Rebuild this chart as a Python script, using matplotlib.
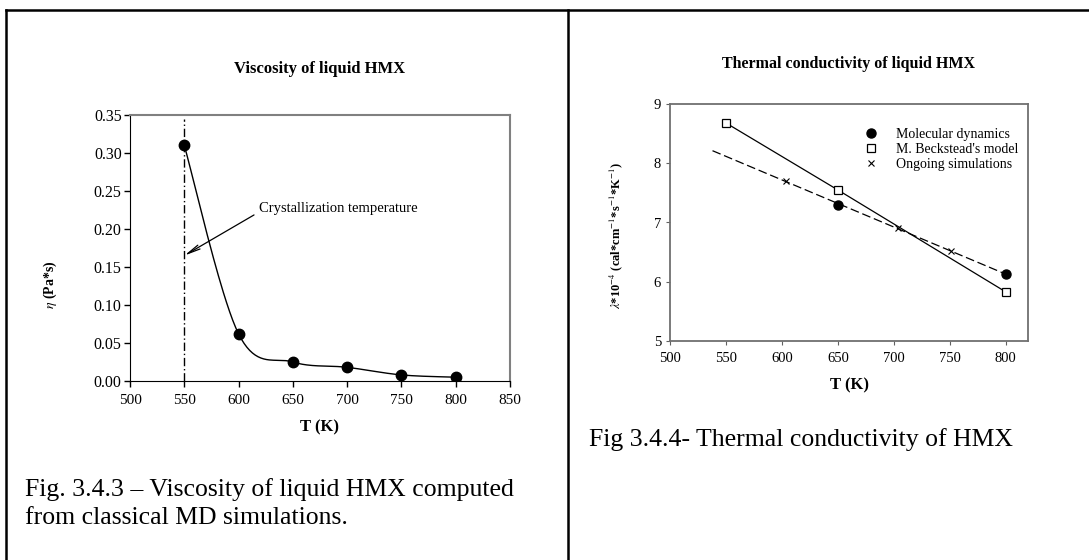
import matplotlib
matplotlib.use("Agg")
from matplotlib import pyplot as plt
from matplotlib.lines import Line2D
import numpy as np

plt.rcParams['font.family'] = ['Liberation Serif', 'DejaVu Serif']
plt.rcParams['mathtext.fontset'] = 'stix'

# viscosity from MD
visc_T = [550, 600, 650, 700, 750, 800]
visc_eta = [0.310, 0.062, 0.025, 0.018, 0.008, 0.005]
cryst_T = 550
cryst_label_y = 0.165

# thermal conductivity
md_T = [650, 800]
md_k = [7.30, 6.13]
beck_T = [550, 650, 800]
beck_k = [8.68, 7.55, 5.83]
ongoing_T = [604, 704, 751]
ongoing_k = [7.70, 6.90, 6.52]
trend_start_T = 538

W, H = 1089, 560


def ax_rect(x0, y0, x1, y1):
    return [x0 / W, 1 - y1 / H, (x1 - x0) / W, (y1 - y0) / H]


def smooth_curve(x, y, xr, yr, n=40):
    # Catmull-Rom curve (Excel style smoothing) in normalised space
    px = (np.asarray(x, float) - xr[0]) / (xr[1] - xr[0])
    py = (np.asarray(y, float) - yr[0]) / (yr[1] - yr[0])
    P = np.column_stack([px, py])
    P = np.vstack([P[0], P, P[-1]])
    out = []
    t = np.linspace(0, 1, n)
    for i in range(1, len(P) - 2):
        p0, p1, p2, p3 = P[i - 1], P[i], P[i + 1], P[i + 2]
        c1 = p1 + (p2 - p0) / 6
        c2 = p2 - (p3 - p1) / 6
        b = ((1 - t) ** 3)[:, None] * p1 + (3 * (1 - t) ** 2 * t)[:, None] * c1 \
            + (3 * (1 - t) * t ** 2)[:, None] * c2 + (t ** 3)[:, None] * p2
        out.append(b)
    out = np.vstack(out)
    return out[:, 0] * (xr[1] - xr[0]) + xr[0], out[:, 1] * (yr[1] - yr[0]) + yr[0]


fig = plt.figure(figsize=(W / 100, H / 100), dpi=100)

# table cell borders
for xs, ys in [([6, W], [10, 10]), ([6, 6], [10, H]), ([568, 568], [10, H])]:
    fig.lines.append(Line2D([x / W for x in xs], [1 - y / H for y in ys],
                            transform=fig.transFigure, color='black', lw=1.8))

# ---- left: viscosity ----
ax1 = fig.add_axes(ax_rect(130, 115, 510, 381))
xr1, yr1 = (500, 850), (0, 0.35)
sx, sy = smooth_curve(visc_T, visc_eta, xr1, yr1)
ax1.plot(sx, sy, color='black', lw=1.0)
ax1.plot(visc_T, visc_eta, 'o', color='black', ms=7.5)
ax1.plot([cryst_T, cryst_T], [0, 0.345], color='black', lw=1.0, dashes=(6, 2, 1, 2))
ax1.annotate('Crystallization temperature', xy=(cryst_T, cryst_label_y), xytext=(619, 0.2276),
             fontsize=10.5, va='center', ha='left',
             arrowprops=dict(arrowstyle='->,head_length=0.9,head_width=0.15', color='black',
                             lw=0.9, shrinkA=2, shrinkB=0, relpos=(0, 0.2)))
ax1.set_xlim(*xr1)
ax1.set_ylim(*yr1)
ax1.set_xticks(np.arange(500, 851, 50))
ax1.set_yticks(np.arange(0, 0.351, 0.05))
ax1.set_yticklabels([f'{v:.2f}' for v in np.arange(0, 0.351, 0.05)])
ax1.tick_params(direction='out', length=4, width=1)
ax1.tick_params(axis='x', labelsize=11, pad=5)
ax1.tick_params(axis='y', labelsize=11.5, pad=2)
for s in ['top', 'right']:
    ax1.spines[s].set_color('#808080')
    ax1.spines[s].set_linewidth(1.5)
ax1.set_title('Viscosity of liquid HMX', fontsize=12, fontweight='bold', pad=30)
ax1.set_xlabel('T (K)', fontsize=12, fontweight='bold', labelpad=9)
fig.text(50 / W, 1 - 285 / H, r'$\eta$ (Pa*s)', rotation=90, fontsize=10, fontweight='bold',
         ha='center', va='center')
fig.text(25 / W, 1 - 490 / H, 'Fig. 3.4.3 \u2013 Viscosity of liquid HMX computed',
         fontsize=18.5, ha='left', va='center')
fig.text(25 / W, 1 - 518 / H, 'from classical MD simulations.', fontsize=18.5, ha='left',
         va='center')

# ---- right: thermal conductivity ----
ax2 = fig.add_axes(ax_rect(670, 104, 1028, 341))
fit = np.polyfit(ongoing_T + md_T, ongoing_k + md_k, 1)
tx = np.array([trend_start_T, max(md_T)])
ax2.plot(tx, np.polyval(fit, tx), color='black', lw=0.9, dashes=(7, 3))
ax2.plot(beck_T, beck_k, '-', color='black', lw=0.9)
ax2.plot(md_T, md_k, 'o', color='black', ms=6.5, label='Molecular dynamics')
ax2.plot(beck_T, beck_k, 's', mfc='white', mec='black', ms=5.5, mew=0.9, ls='none',
         label="M. Beckstead's model")
ax2.plot(ongoing_T, ongoing_k, 'x', color='black', ms=4, mew=0.8, ls='none',
         label='Ongoing simulations')
ax2.set_xlim(500, 820)
ax2.set_ylim(5, 9)
ax2.set_xticks(np.arange(500, 801, 50))
ax2.set_yticks(np.arange(5, 10, 1))
ax2.tick_params(direction='out', length=3, labelsize=10.5, color='#606060')
ax2.tick_params(axis='x', pad=5)
for s in ax2.spines.values():
    s.set_color('#707070')
    s.set_linewidth(1.3)
ax2.legend(loc='upper left', bbox_to_anchor=(0.52, 0.93), frameon=False, fontsize=10,
           handlelength=1.2, handletextpad=1.2, labelspacing=0.15, borderpad=0)
ax2.set_title('Thermal conductivity of liquid HMX', fontsize=11.5, fontweight='bold', pad=26)
ax2.set_xlabel('T (K)', fontsize=12, fontweight='bold', labelpad=9)
fig.text(616 / W, 1 - 236 / H, r'$\lambda$*10$^{-4}$ (cal*cm$^{-1}$*s$^{-1}$*K$^{-1}$)',
         rotation=90, fontsize=9, fontweight='bold', ha='center', va='center')
fig.text(589 / W, 1 - 440 / H, 'Fig 3.4.4- Thermal conductivity of HMX', fontsize=18.5,
         ha='left', va='center')

fig.savefig('out.png', dpi=100)
